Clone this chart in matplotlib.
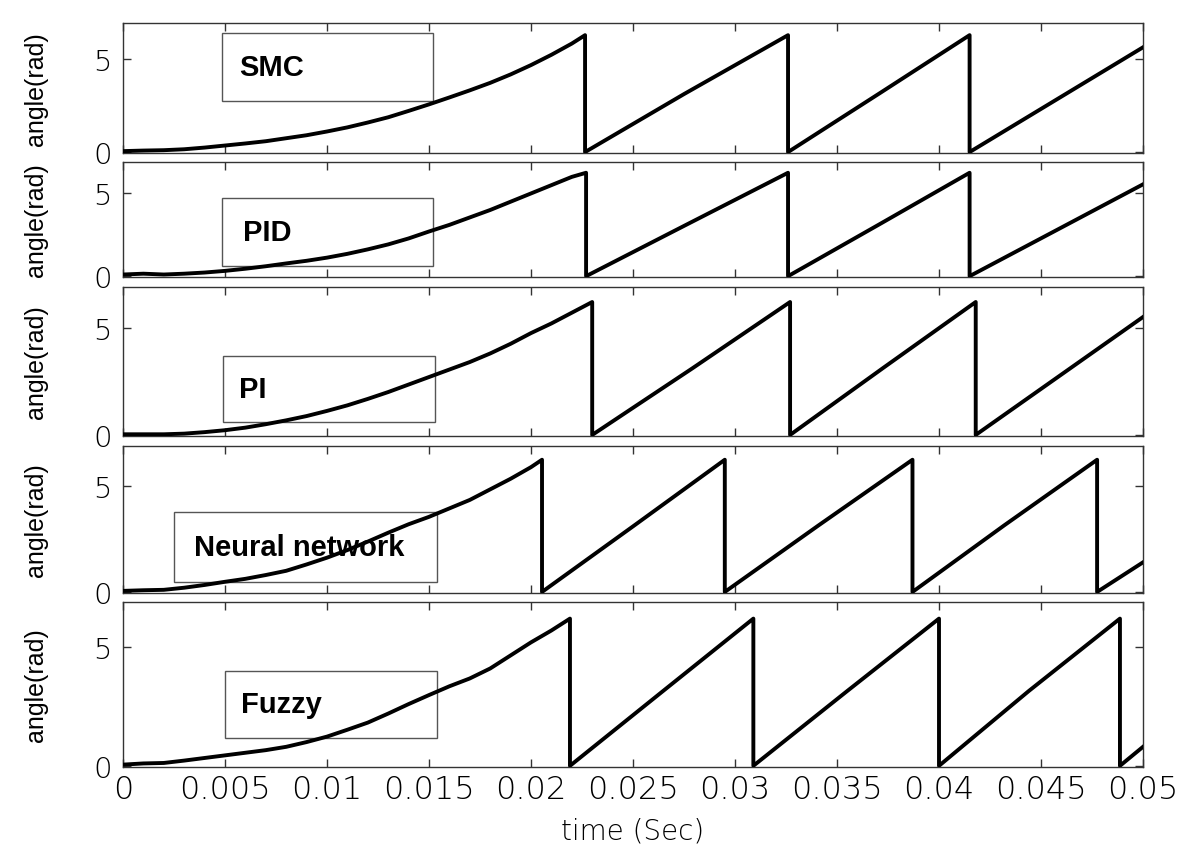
import matplotlib
matplotlib.use("Agg")
import matplotlib.pyplot as plt
from matplotlib.patches import Rectangle
import numpy as np

# angle (rad), per controller
smc_t = [0, 0.001, 0.002, 0.003, 0.004, 0.005, 0.006, 0.007, 0.008, 0.009, 0.010, 0.011, 0.012,
         0.013, 0.014, 0.015, 0.016, 0.017, 0.018, 0.019, 0.020, 0.021, 0.022, 0.02265,
         0.02265, 0.0275, 0.0326, 0.0326, 0.0371, 0.0415, 0.0415, 0.05]
smc_y = [0.05, 0.08, 0.1, 0.15, 0.24, 0.35, 0.46, 0.58, 0.74, 0.9, 1.1, 1.32, 1.58,
         1.86, 2.2, 2.55, 2.92, 3.3, 3.7, 4.15, 4.65, 5.2, 5.8, 6.25,
         0.0, 3.1, 6.25, 0.0, 3.15, 6.25, 0.0, 5.6]

pid_t = [0, 0.001, 0.002, 0.003, 0.004, 0.005, 0.006, 0.007, 0.008, 0.009, 0.010, 0.011, 0.012,
         0.013, 0.014, 0.015, 0.016, 0.017, 0.018, 0.019, 0.020, 0.021, 0.022, 0.0227,
         0.0227, 0.0276, 0.0326, 0.0326, 0.0371, 0.0415, 0.0415, 0.05]
pid_y = [0.1, 0.15, 0.1, 0.15, 0.22, 0.32, 0.45, 0.6, 0.77, 0.93, 1.12, 1.35, 1.62,
         1.92, 2.28, 2.7, 3.1, 3.55, 4.0, 4.5, 5.0, 5.5, 6.0, 6.25,
         0.0, 3.1, 6.25, 0.0, 3.15, 6.25, 0.0, 5.55]

pi_t = [0, 0.002, 0.003, 0.004, 0.005, 0.006, 0.007, 0.008, 0.009, 0.010, 0.011, 0.012,
        0.013, 0.014, 0.015, 0.016, 0.017, 0.018, 0.019, 0.020, 0.021, 0.022, 0.0230,
        0.0230, 0.0279, 0.0327, 0.0327, 0.0373, 0.0418, 0.0418, 0.05]
pi_y = [0.03, 0.03, 0.06, 0.13, 0.22, 0.34, 0.5, 0.68, 0.88, 1.12, 1.38, 1.68,
        2.0, 2.35, 2.7, 3.05, 3.4, 3.8, 4.25, 4.75, 5.2, 5.7, 6.2,
        0.0, 3.1, 6.2, 0.0, 3.15, 6.2, 0.0, 5.5]

nn_t = [0, 0.001, 0.002, 0.003, 0.004, 0.005, 0.006, 0.007, 0.008, 0.009, 0.010, 0.011, 0.012,
        0.013, 0.014, 0.015, 0.016, 0.017, 0.018, 0.019, 0.020, 0.02054,
        0.02054, 0.0250, 0.0295, 0.0295, 0.0341, 0.0387, 0.0387, 0.0432, 0.04775, 0.04775, 0.05]
nn_y = [0.05, 0.08, 0.1, 0.2, 0.33, 0.48, 0.62, 0.8, 1.0, 1.3, 1.62, 1.98, 2.38,
        2.8, 3.2, 3.55, 3.95, 4.35, 4.85, 5.35, 5.9, 6.25,
        0.0, 3.1, 6.25, 0.0, 3.15, 6.25, 0.0, 3.15, 6.25, 0.0, 1.4]

fz_t = [0, 0.001, 0.002, 0.003, 0.004, 0.005, 0.006, 0.007, 0.008, 0.009, 0.010, 0.011, 0.012,
        0.013, 0.014, 0.015, 0.016, 0.017, 0.018, 0.019, 0.020, 0.021, 0.02191,
        0.02191, 0.0264, 0.0309, 0.0309, 0.0355, 0.0400, 0.0400, 0.0444, 0.04887, 0.04887, 0.05]
fz_y = [0.05, 0.1, 0.12, 0.22, 0.33, 0.44, 0.55, 0.66, 0.8, 1.0, 1.23, 1.52, 1.82,
        2.2, 2.6, 2.98, 3.35, 3.68, 4.1, 4.65, 5.2, 5.7, 6.2,
        0.0, 3.1, 6.2, 0.0, 3.15, 6.2, 0.0, 3.15, 6.2, 0.0, 0.8]

names = ["SMC", "PID", "PI", "Neural network", "Fuzzy"]
series = [(smc_t, smc_y), (pid_t, pid_y), (pi_t, pi_y), (nn_t, nn_y), (fz_t, fz_y)]

# label boxes (x0, x1, y0, y1) in data units
boxes = [(0.00485, 0.0152, 2.72, 6.36),
         (0.00485, 0.0152, 0.6, 4.7),
         (0.0049, 0.0153, 0.6, 3.7),
         (0.0025, 0.0154, 0.48, 3.76),
         (0.005, 0.0154, 1.18, 3.99)]
text_x = [0.0057, 0.0059, 0.0057, 0.0035, 0.0058]

xticks = [0, 0.005, 0.01, 0.015, 0.02, 0.025, 0.03, 0.035, 0.04, 0.045, 0.05]
xticklabels = ["0", "0.005", "0.01", "0.015", "0.02", "0.025", "0.03", "0.035", "0.04", "0.045", "0.05"]

W, H = 1194, 845
# panel pixel extents (top, bottom)
panels_px = [(24, 154), (163, 278), (288, 437), (447, 594), (603, 768)]
left_px, right_px = 123, 1143

fig = plt.figure(figsize=(W / 100, H / 100), dpi=100)

for i, ((t, y), name, box, tx) in enumerate(zip(series, names, boxes, text_x)):
    top, bot = panels_px[i]
    ax = fig.add_axes([left_px / W, 1 - bot / H, (right_px - left_px) / W, (bot - top) / H])
    ax.plot(t, y, color="black", lw=2.8, solid_joinstyle="round", zorder=3)
    ax.add_patch(Rectangle((box[0], box[2]), box[1] - box[0], box[3] - box[2],
                           fill=False, edgecolor="#555555", lw=1.0, zorder=2))
    ax.text(tx, (box[2] + box[3]) / 2, name, fontsize=21, fontweight="bold",
            family="Liberation Sans", va="center", ha="left", zorder=4)
    ax.set_xlim(0, 0.05)
    ax.set_ylim(-0.05, 6.9)
    ax.set_yticks([0, 5])
    ax.set_xticks(xticks)
    ax.tick_params(direction="in", top=True, right=True, length=6, width=1, color="#333333")
    ax.tick_params(axis="y", labelsize=21, pad=8)
    for lab in ax.get_yticklabels():
        lab.set_fontweight("light")
    if i < 4:
        ax.set_xticklabels([])
    else:
        ax.set_xticklabels(xticklabels, fontsize=23, fontweight="light")
        ax.tick_params(axis="x", pad=5)
        ax.set_xlabel("time (Sec)", fontsize=20, fontweight="light", labelpad=9)
    for sp in ax.spines.values():
        sp.set_color("#333333")
        sp.set_linewidth(1.0)
    ax.set_ylabel("angle(rad)", fontsize=18, family="Liberation Sans")
    ax.yaxis.set_label_coords(-0.0735, 0.5)

fig.savefig("out.png", dpi=100)
